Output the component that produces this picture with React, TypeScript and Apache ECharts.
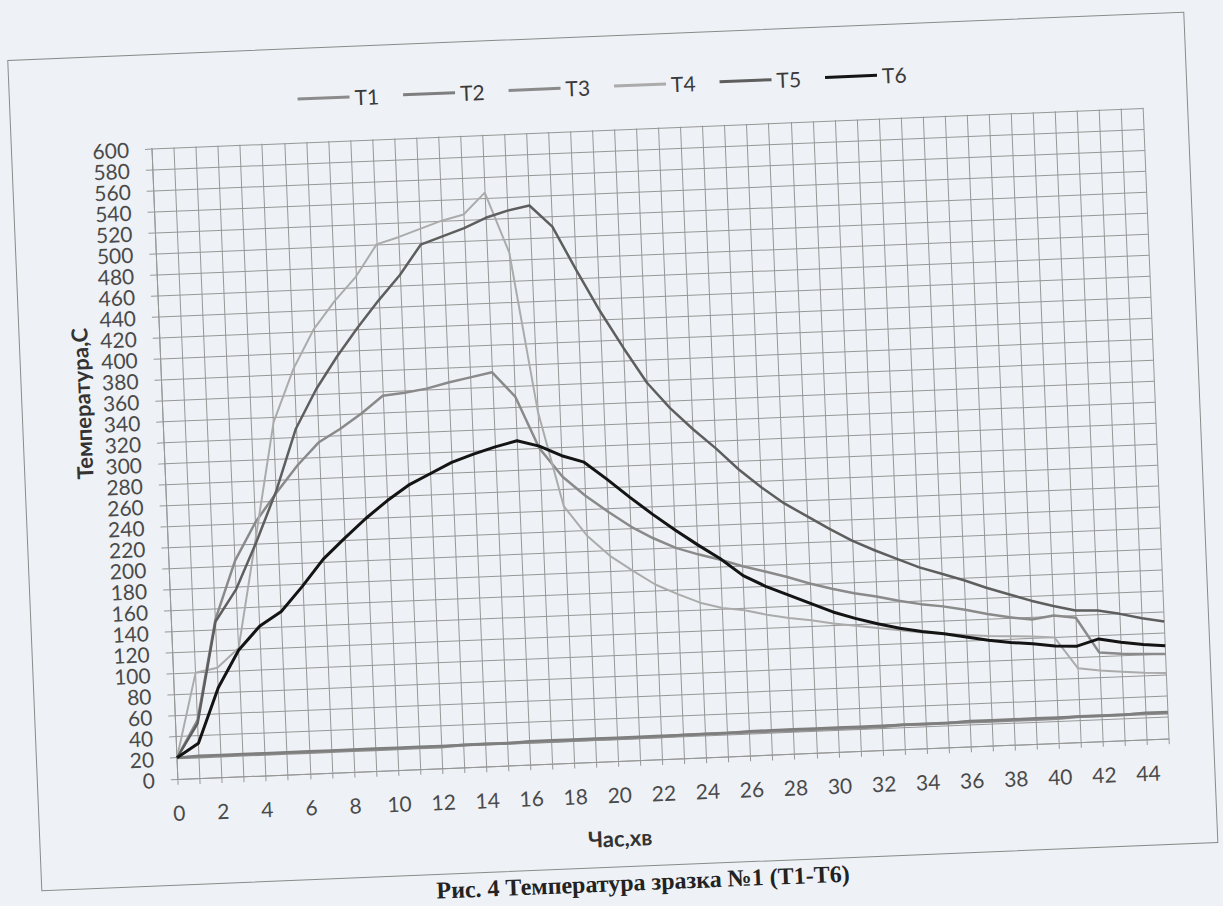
import React, { useEffect, useRef } from "react";
import * as echarts from "echarts";

// minutes on the category axis
const minutes = [
  "0", "1", "2", "3", "4", "5", "6", "7", "8", "9",
  "10", "11", "12", "13", "14", "15", "16", "17", "18", "19",
  "20", "21", "22", "23", "24", "25", "26", "27", "28", "29",
  "30", "31", "32", "33", "34", "35", "36", "37", "38", "39",
  "40", "41", "42", "43", "44", "45",
];

const seriesNames = ["T1", "T2", "T3", "T4", "T5", "T6"];

const t1 = [20, 20, 20, 20, 20, 20, 20, 20, 20, 20, 20, 20, 20, 21, 21, 21, 21, 21, 21, 21, 21, 21, 21, 22, 22, 22, 22, 22, 22, 22, 22, 22, 22, 23, 23, 23, 23, 23, 23, 23, 23, 24, 24, 24, 24, 24];
const t2 = [20, 21, 21, 21, 21, 21, 21, 21, 21, 21, 21, 21, 21, 21, 21, 21, 22, 22, 22, 22, 22, 22, 22, 22, 22, 22, 23, 23, 23, 23, 23, 23, 23, 23, 23, 23, 24, 24, 24, 24, 24, 24, 24, 24, 25, 25];
const t3 = [20, 55, 150, 205, 241, 268, 293, 314, 326, 340, 356, 358, 361, 366, 370, 374, 350, 300, 272, 253, 237, 222, 210, 200, 193, 187, 180, 174, 168, 161, 155, 150, 146, 141, 137, 134, 130, 125, 121, 118, 121, 118, 84, 82, 81, 80];
const t4 = [20, 100, 104, 122, 228, 335, 385, 422, 448, 470, 500, 506, 513, 520, 525, 545, 487, 335, 244, 215, 195, 180, 166, 156, 147, 141, 138, 133, 129, 126, 122, 119, 116, 113, 110, 108, 106, 104, 103, 102, 100, 70, 67, 65, 63, 62];
const t5 = [20, 52, 148, 178, 222, 270, 328, 365, 395, 422, 447, 470, 498, 505, 512, 521, 527, 531, 510, 468, 428, 392, 358, 333, 312, 293, 272, 254, 238, 225, 212, 200, 190, 181, 172, 165, 158, 150, 143, 136, 130, 125, 124, 120, 115, 111];
const t6 = [20, 33, 85, 120, 142, 155, 178, 203, 222, 240, 256, 270, 280, 290, 297, 303, 308, 302, 292, 285, 268, 250, 233, 217, 202, 188, 171, 160, 151, 142, 133, 126, 120, 115, 111, 108, 104, 100, 97, 95, 92, 91, 97, 93, 90, 88];

const yTitle = "Температура,С";
const xTitle = "Час,хв";
const caption = "Рис. 4 Температура зразка №1 (Т1-Т6)";

const seriesValues = [t1, t2, t3, t4, t5, t6];
const seriesColors = ["#8c8c8c", "#7e7e7e", "#8a8a8a", "#ababab", "#5e5e5e", "#141414"];
const seriesWidths = [3, 2.5, 2.5, 2, 2.5, 3];

const PAPER = "#eef1f5";
const GRID = "#979797";

export default function App() {
  const ref = useRef<HTMLDivElement | null>(null);

  useEffect(() => {
    if (!ref.current) return;
    const chart = echarts.init(ref.current, null, { renderer: "svg", width: 1223, height: 960 });
    const option: any = {
      animation: false,
      backgroundColor: "transparent",
      textStyle: { fontFamily: "Lato" },
      legend: {
        data: seriesNames,
        left: 312,
        top: 74,
        padding: 0,
        icon: "rect",
        itemWidth: 52,
        itemHeight: 3,
        itemGap: 24,
        textStyle: { fontFamily: "Lato", fontSize: 21, color: "#3a3a3a" },
      },
      grid: { left: 164.5, top: 127.75, width: 992, height: 631, containLabel: false },
      xAxis: {
        type: "category",
        data: minutes,
        boundaryGap: false,
        axisLine: { show: true, lineStyle: { color: GRID, width: 1 } },
        axisTick: { show: true, interval: 0, length: 6, lineStyle: { color: GRID } },
        axisLabel: { interval: 1, margin: 23, fontFamily: "Lato", fontSize: 21, color: "#4a4a4a" },
        splitLine: { show: true, interval: 0, lineStyle: { color: GRID, width: 1 } },
      },
      yAxis: {
        type: "value",
        min: 0,
        max: 600,
        interval: 20,
        axisLine: { show: true, lineStyle: { color: GRID, width: 1 } },
        axisTick: { show: true, length: 7, lineStyle: { color: GRID } },
        axisLabel: { margin: 23, fontFamily: "Lato", fontSize: 21, color: "#4a4a4a" },
        splitLine: { show: true, lineStyle: { color: GRID, width: 1 } },
      },
      series: seriesNames.map((name, i) => ({
        name,
        type: "line",
        data: seriesValues[i],
        symbol: "none",
        smooth: false,
        z: 3 + i,
        lineStyle: { color: seriesColors[i], width: seriesWidths[i] },
        itemStyle: { color: seriesColors[i] },
      })),
      graphic: [
        {
          type: "rect",
          silent: true,
          z: -10,
          shape: { x: 24, y: 34, width: 1177, height: 831 },
          style: { fill: "none", stroke: "#8a8a8a", lineWidth: 1 },
        },
        {
          type: "text",
          silent: true,
          x: 84,
          y: 380,
          rotation: Math.PI / 2,
          style: {
            text: yTitle,
            font: 'bold 22px "Lato"',
            fill: "#333",
            textAlign: "center",
            textVerticalAlign: "middle",
            align: "center",
            verticalAlign: "middle",
          },
        },
        {
          type: "text",
          silent: true,
          x: 604,
          y: 836,
          style: {
            text: xTitle,
            font: 'bold 22px "Lato"',
            fill: "#333",
            textAlign: "center",
            textVerticalAlign: "middle",
            align: "center",
            verticalAlign: "middle",
          },
        },
        {
          type: "text",
          silent: true,
          x: 625,
          y: 881,
          style: {
            text: caption,
            font: 'bold 24px "Liberation Serif"',
            fill: "#222",
            textAlign: "center",
            textVerticalAlign: "middle",
            align: "center",
            verticalAlign: "middle",
          },
        },
      ],
    };
    chart.setOption(option);
    return () => chart.dispose();
  }, []);

  return (
    <div
      style={{
        position: "absolute",
        left: 0,
        top: 0,
        width: 1223,
        height: 906,
        overflow: "hidden",
        background: PAPER,
      }}
    >
      <div
        ref={ref}
        style={{
          position: "absolute",
          left: 0,
          top: 0,
          width: 1223,
          height: 960,
          transform: "rotate(-2.35deg)",
          transformOrigin: "660.5px 443.25px",
        }}
      />
    </div>
  );
}
